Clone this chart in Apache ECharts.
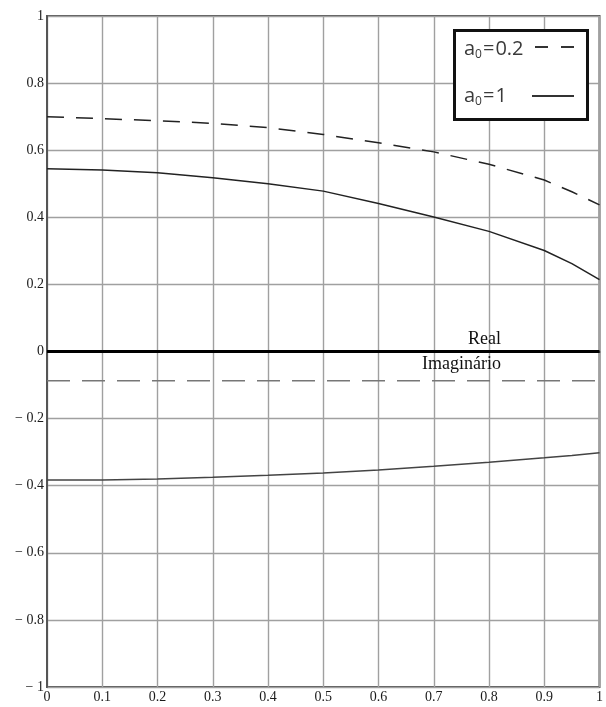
<!DOCTYPE html>
<html>
<head>
<meta charset="utf-8">
<script src="https://cdn.jsdelivr.net/npm/echarts@6/dist/echarts.min.js"></script>
<style>
html,body{margin:0;padding:0;background:#fff;}
#chart{width:606px;height:707px;}
</style>
</head>
<body>
<div id="chart"></div>
<script>
var xValues = [0, 0.1, 0.2, 0.3, 0.4, 0.5, 0.6, 0.7, 0.8, 0.9, 0.95, 1];
var realA02 = [0.700, 0.694, 0.688, 0.680, 0.667, 0.647, 0.622, 0.595, 0.558, 0.511, 0.476, 0.437];
var realA1  = [0.545, 0.541, 0.533, 0.518, 0.500, 0.478, 0.441, 0.401, 0.358, 0.301, 0.262, 0.214];
var imagA02 = [-0.087, -0.087, -0.087, -0.087, -0.087, -0.087, -0.087, -0.087, -0.087, -0.087, -0.087, -0.087];
var imagA1  = [-0.383, -0.383, -0.380, -0.375, -0.369, -0.362, -0.353, -0.342, -0.330, -0.317, -0.310, -0.302];
var legendLabels = ['0.2', '1'];
var annotations = ['Real', 'Imaginário'];

function pairs(ys) { return xValues.map(function (x, i) { return [x, ys[i]]; }); }
function fmt(v) {
  var s = String(parseFloat(Math.abs(v).toFixed(2)));
  return v < -1e-9 ? '\u2212 ' + s : s;
}

var chart = echarts.init(document.getElementById('chart'));
var serif = 'Liberation Serif';
var legRich = {
  a: { fontFamily: 'Open Sans', fontSize: 20, fill: '#3a3a3a' },
  e: { fontFamily: 'Open Sans', fontSize: 20, fill: '#3a3a3a', padding: [0, 1, 0, 1] },
  s: { fontFamily: 'Open Sans', fontSize: 12, fill: '#3a3a3a', verticalAlign: 'bottom', padding: [12, 0, 0, 0] }
};
var option = {
  animation: false,
  backgroundColor: '#fff',
  grid: { left: 47, right: 6, top: 16, bottom: 20, show: true, borderColor: '#555', borderWidth: 2, backgroundColor: 'transparent' },
  xAxis: {
    type: 'value', min: 0, max: 1, interval: 0.1,
    axisLine: { show: true, lineStyle: { color: '#555', width: 2 } },
    axisTick: { show: false },
    splitLine: { show: true, lineStyle: { color: '#a0a0a0', width: 1.4 } },
    axisLabel: { fontFamily: serif, fontSize: 14, color: '#1a1a1a', margin: 3, formatter: fmt, showMinLabel: true, showMaxLabel: true }
  },
  yAxis: {
    type: 'value', min: -1, max: 1, interval: 0.2,
    axisLine: { show: true, lineStyle: { color: '#555', width: 2 } },
    axisTick: { show: false },
    splitLine: { show: true, lineStyle: { color: '#a0a0a0', width: 1.4 } },
    axisLabel: { fontFamily: serif, fontSize: 14, color: '#1a1a1a', margin: 3, formatter: fmt }
  },
  series: [
    { type: 'line', data: pairs(realA02), showSymbol: false, lineStyle: { color: '#222', width: 1.5, type: [17, 12] }, z: 3,
      markLine: { silent: true, symbol: 'none', label: { show: false }, lineStyle: { color: '#000', width: 3, type: 'solid' }, data: [{ yAxis: 0 }] } },
    { type: 'line', data: pairs(realA1), showSymbol: false, lineStyle: { color: '#222', width: 1.5 }, z: 3 },
    { type: 'line', data: pairs(imagA02), showSymbol: false, lineStyle: { color: '#777', width: 1.5, type: [23, 12] }, z: 3 },
    { type: 'line', data: pairs(imagA1), showSymbol: false, lineStyle: { color: '#444', width: 1.5 }, z: 3 }
  ],
  graphic: [
    { type: 'rect', left: 453, top: 29, shape: { width: 133, height: 89 }, style: { fill: '#fff', stroke: '#111', lineWidth: 3 }, z: 10 },
    { type: 'text', left: 464, top: 39, z: 11, style: { rich: legRich, text: '{a|a}{s|0}{e|=}{a|' + legendLabels[0] + '}' } },
    { type: 'line', z: 11, shape: { x1: 535, y1: 47, x2: 574, y2: 47 }, style: { stroke: '#333', lineWidth: 2, lineDash: [13, 13] } },
    { type: 'text', left: 464, top: 86, z: 11, style: { rich: legRich, text: '{a|a}{s|0}{e|=}{a|' + legendLabels[1] + '}' } },
    { type: 'line', z: 11, shape: { x1: 532, y1: 96, x2: 574, y2: 96 }, style: { stroke: '#333', lineWidth: 2 } },
    { type: 'text', z: 11, style: { x: 501, y: 339, text: annotations[0], fontFamily: serif, fontSize: 18, fill: '#111', align: 'right', verticalAlign: 'middle' } },
    { type: 'text', z: 11, style: { x: 501, y: 364, text: annotations[1], fontFamily: serif, fontSize: 18, fill: '#111', align: 'right', verticalAlign: 'middle' } }
  ]
};
chart.setOption(option);
</script>
</body>
</html>
